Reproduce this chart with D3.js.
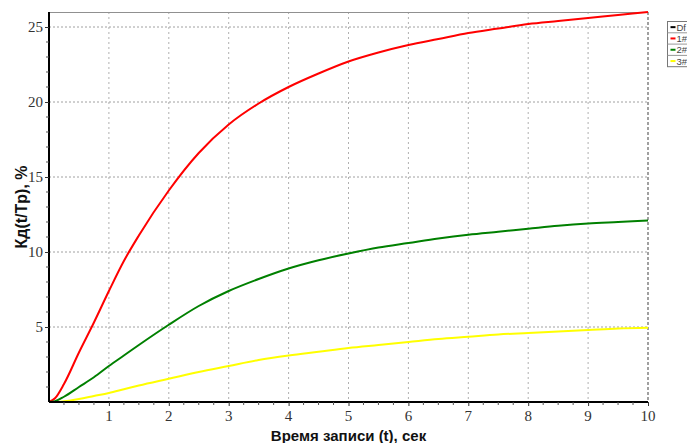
<!DOCTYPE html>
<html><head><meta charset="utf-8">
<script src="https://cdn.jsdelivr.net/npm/d3@7"></script>
<style>html,body{margin:0;padding:0;background:#fff;overflow:hidden}</style>
</head><body><svg id="c" width="687" height="443"></svg>
<script>
const tVals = [0, 0.1, 0.25, 0.5, 0.75, 1, 1.25, 1.5, 2, 2.5, 3, 3.5, 4, 4.5, 5, 5.5, 6, 6.5, 7, 7.5, 8, 8.5, 9, 9.5, 10];
const s1 = [0, 0.25, 1.2, 3.3, 5.3, 7.4, 9.4, 11.1, 14.1, 16.6, 18.5, 19.9, 21.0, 21.9, 22.7, 23.3, 23.8, 24.2, 24.6, 24.9, 25.2, 25.4, 25.6, 25.8, 26.0];
const s2 = [0, 0.05, 0.35, 1.0, 1.65, 2.4, 3.1, 3.8, 5.15, 6.4, 7.4, 8.2, 8.9, 9.45, 9.9, 10.3, 10.6, 10.9, 11.15, 11.35, 11.55, 11.75, 11.9, 12.0, 12.1];
const s3 = [0, 0, 0.05, 0.2, 0.4, 0.6, 0.85, 1.1, 1.55, 2.0, 2.4, 2.8, 3.1, 3.35, 3.6, 3.8, 4.0, 4.2, 4.35, 4.5, 4.6, 4.7, 4.8, 4.9, 4.95];
const sDf = [];
const seriesNames = ["Df", "1#", "2#", "3#"];
const seriesColors = ["#000000", "#ff0000", "#008000", "#ffff00"];
const xTicks = [1,2,3,4,5,6,7,8,9,10];
const yTicks = [5,10,15,20,25];
const xLabel = "Время записи (t), сек";
const yLabel = "Кд(t/Tp), %";

const svg = d3.select("#c");
const L = 49, R = 648, T = 12, B = 402;
const x = d3.scaleLinear().domain([0, 10]).range([L, R]);
const y = d3.scaleLinear().domain([0, 26]).range([B, T]);
const serif = "Liberation Serif";

// grid
const g = svg.append("g");
g.selectAll(".vg").data(xTicks.slice(0, -1)).enter().append("line")
  .attr("x1", d => x(d)).attr("x2", d => x(d)).attr("y1", T).attr("y2", B)
  .attr("stroke", "#b0b0b0").attr("stroke-dasharray", "2,3").attr("stroke-width", 1);
g.selectAll(".hg").data(yTicks).enter().append("line")
  .attr("x1", L).attr("x2", R).attr("y1", d => y(d)).attr("y2", d => y(d))
  .attr("stroke", "#a0a0a0").attr("stroke-dasharray", "2,2").attr("stroke-width", 1);
// top and right borders
svg.append("line").attr("x1", L).attr("x2", R).attr("y1", T + 0.5).attr("y2", T + 0.5).attr("stroke", "#909090");
svg.append("line").attr("x1", R).attr("x2", R).attr("y1", T).attr("y2", B)
  .attr("stroke", "#a0a0a0").attr("stroke-width", 2).attr("stroke-dasharray", "3,2");

// lines
const data = [sDf, s1, s2, s3];
const line = d3.line().x(d => x(d[0])).y(d => y(d[1])).curve(d3.curveMonotoneX);
data.forEach((s, i) => {
  if (!s.length) return;
  svg.append("path").datum(tVals.map((t, j) => [t, s[j]]))
    .attr("d", line).attr("fill", "none").attr("stroke", seriesColors[i]).attr("stroke-width", 2);
});

// axes (tick labels drawn manually for font control)
const xa = svg.append("g").attr("transform", `translate(0,${B})`).call(d3.axisBottom(x).tickValues(xTicks).tickSize(4).tickFormat(""));
xa.select(".domain").attr("stroke", "#000").attr("stroke-width", 2).attr("d", `M${L},0H${R}`);
xa.selectAll(".tick line").attr("stroke", "#333");
svg.append("g").selectAll("text").data(xTicks).enter().append("text")
  .attr("x", d => x(d)).attr("y", B + 19).attr("text-anchor", "middle")
  .attr("font-family", serif).attr("font-size", 15).attr("fill", "#333").text(d => d);
const xMinor = d3.range(0.25, 10, 0.25).filter(v => Math.abs(v - Math.round(v)) > 1e-6);
svg.append("g").selectAll("line").data(xMinor).enter().append("line")
  .attr("x1", d => x(d)).attr("x2", d => x(d)).attr("y1", B).attr("y2", B + 3).attr("stroke", "#555");

const ya = svg.append("g").attr("transform", `translate(${L},0)`).call(d3.axisLeft(y).tickValues(yTicks).tickSize(4).tickFormat(""));
ya.select(".domain").attr("stroke", "#000").attr("stroke-width", 2).attr("d", `M0,${T}V${B}`);
ya.selectAll(".tick line").attr("stroke", "#333");
svg.append("g").selectAll("text").data(yTicks).enter().append("text")
  .attr("x", L - 6).attr("y", d => y(d) + 5).attr("text-anchor", "end")
  .attr("font-family", serif).attr("font-size", 15).attr("fill", "#333").text(d => d);
const yMinor = d3.range(1, 26, 1).filter(v => v % 5 !== 0);
svg.append("g").selectAll("line").data(yMinor).enter().append("line")
  .attr("x1", L - 3).attr("x2", L).attr("y1", d => y(d)).attr("y2", d => y(d)).attr("stroke", "#555");

// axis labels
svg.append("text").attr("x", (L + R) / 2).attr("y", 441).attr("text-anchor", "middle")
  .attr("font-family", "Liberation Sans, Arial, sans-serif").attr("font-weight", "bold").attr("font-size", 15).attr("fill", "#111").text(xLabel);
svg.append("text").attr("transform", `translate(27,${(T + B) / 2}) rotate(-90)`).attr("text-anchor", "middle")
  .attr("font-family", "Liberation Sans, Arial, sans-serif").attr("font-weight", "bold").attr("font-size", 16).attr("fill", "#111").text(yLabel);

// legend
const lg = svg.append("g").attr("transform", "translate(667.5,21.5)");
const rowH = 11.3;
lg.append("rect").attr("width", 30).attr("height", rowH * 4).attr("fill", "#fff").attr("stroke", "#777");
seriesNames.forEach((n, i) => {
  const r = lg.append("g").attr("transform", `translate(0,${i * rowH})`);
  if (i > 0) r.append("line").attr("x1", 0).attr("x2", 30).attr("y1", 0).attr("y2", 0).attr("stroke", "#999");
  r.append("line").attr("x1", 3).attr("x2", 8).attr("y1", rowH / 2).attr("y2", rowH / 2).attr("stroke", seriesColors[i]).attr("stroke-width", 2);
  r.append("text").attr("x", 9).attr("y", rowH / 2 + 3.5).attr("font-family", "Liberation Sans, Arial, sans-serif")
    .attr("font-size", 9.5).attr("fill", "#444").text(n);
});
</script></body></html>
